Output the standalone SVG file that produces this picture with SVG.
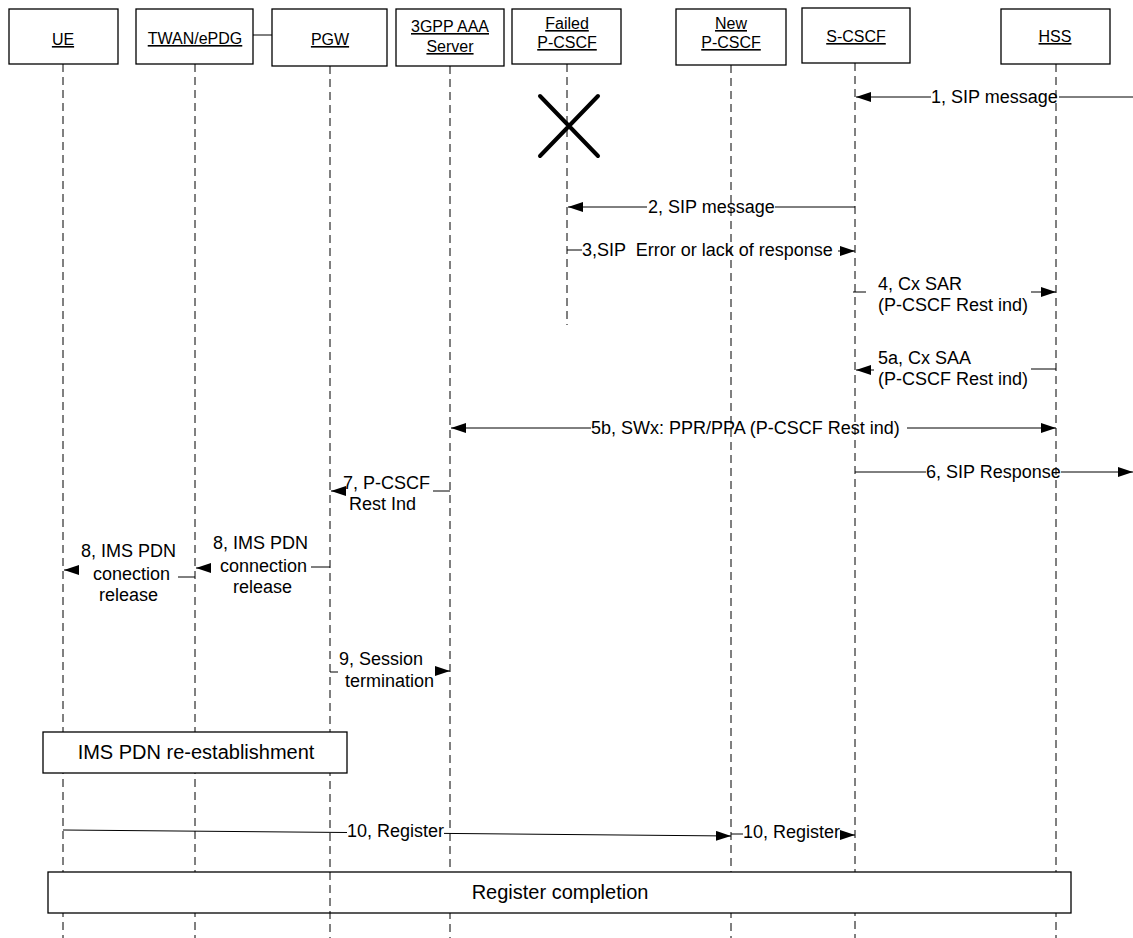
<svg xmlns="http://www.w3.org/2000/svg" width="1133" height="938" viewBox="0 0 1133 938">
<defs>
<marker id="ah" markerUnits="userSpaceOnUse" markerWidth="16" markerHeight="11" refX="15" refY="5" orient="auto-start-reverse">
<path d="M0,0 L15,5 L0,10 z" fill="#000"/>
</marker>
<style>
text{font-family:"Liberation Sans",Arial,sans-serif;fill:#000}
.hd{font-size:16px;text-anchor:middle;text-decoration:underline}
.m{font-size:18px}
.bx{font-size:20px;text-anchor:middle}
.box{fill:#fff;stroke:#000;stroke-width:1.3}
.life{stroke:#000;stroke-width:1;stroke-dasharray:8 5;fill:none}
.ln{stroke:#000;stroke-width:1;fill:none}
.arr{stroke:#000;stroke-width:1;fill:none;marker-end:url(#ah)}
</style>
</defs>
<rect width="1133" height="938" fill="#fff"/>

<g id="UE"><line class="life" x1="63" y1="64" x2="63" y2="938"/><rect class="box" x="9" y="9" width="109" height="55"/><text class="hd" x="63" y="45">UE</text></g>
<g id="TWAN"><line class="life" x1="195" y1="64" x2="195" y2="938"/><rect class="box" x="136" y="9" width="117" height="55"/><text class="hd" x="195" y="44">TWAN/ePDG</text></g>
<g id="AAA"><line class="life" x1="450" y1="66" x2="450" y2="938"/><rect class="box" x="396" y="9" width="108" height="57"/><text class="hd" x="450" y="32">3GPP AAA</text><text class="hd" x="450" y="52">Server</text></g>
<g id="FailedPCSCF"><line class="life" x1="567" y1="64" x2="567" y2="325"/><rect class="box" x="512" y="9" width="109" height="55"/><text class="hd" x="567" y="29">Failed</text><text class="hd" x="567" y="48">P-CSCF</text>
<path d="M540,96 L598,156 M598,96 L540,156" stroke="#000" stroke-width="4" stroke-linecap="round" fill="none"/></g>
<g id="NewPCSCF"><line class="life" x1="731" y1="65" x2="731" y2="938"/><rect class="box" x="676" y="9" width="110" height="56"/><text class="hd" x="731" y="29">New</text><text class="hd" x="731" y="48">P-CSCF</text></g>
<g id="SCSCF"><line class="life" x1="855" y1="63" x2="855" y2="938"/><rect class="box" x="802" y="8" width="108" height="55"/><text class="hd" x="856" y="42">S-CSCF</text></g>
<g id="HSS"><line class="life" x1="1056" y1="64" x2="1056" y2="938"/><rect class="box" x="1001" y="9" width="109" height="55"/><text class="hd" x="1055" y="42">HSS</text></g>

<g id="RegisterCompletion"><rect class="box" x="48" y="872" width="1023" height="41"/><text class="bx" x="560" y="899">Register completion</text></g>

<g id="PGW"><line class="life" x1="330" y1="66" x2="330" y2="938"/><rect class="box" x="272" y="9" width="115" height="57"/><text class="hd" x="330" y="45">PGW</text></g>

<g id="IMSPDN"><rect class="box" x="43" y="732" width="304" height="41"/><text class="bx" x="196" y="759">IMS PDN re-establishment</text></g>

<g id="connectors">
<line class="ln" x1="253" y1="35" x2="272" y2="35"/>
<!-- 1 -->
<path class="ln" d="M1059,97 H1133"/><path class="arr" d="M931,97 H856"/>
<text class="m" x="931" y="103">1, SIP message</text>
<!-- 2 -->
<path class="ln" d="M775,207 H855"/><path class="arr" d="M647,207 H568"/>
<text class="m" x="648" y="213">2, SIP message</text>
<!-- 3 -->
<path class="ln" d="M567,250 H582"/><path class="arr" d="M838,251 H855"/>
<text class="m" x="582" y="256" xml:space="preserve">3,SIP  Error or lack of response</text>
<!-- 4 -->
<path class="ln" d="M853,292 H866"/><path class="arr" d="M1031,292 H1056"/>
<text class="m" x="878" y="290">4, Cx SAR</text><text class="m" x="878" y="311">(P-CSCF Rest ind)</text>
<!-- 5a -->
<path class="ln" d="M1031,369 H1056"/><path class="arr" d="M874,370 H856"/>
<text class="m" x="878" y="364">5a, Cx SAA</text><text class="m" x="878" y="385">(P-CSCF Rest ind)</text>
<!-- 5b -->
<path class="arr" d="M591,428 H451" /><path class="arr" d="M907,428 H1056"/>
<text class="m" x="591" y="434">5b, SWx: PPR/PPA (P-CSCF Rest ind)</text>
<!-- 6 -->
<path class="ln" d="M855,472 H926"/><path class="arr" d="M1061,472 H1133"/>
<text class="m" x="926" y="478">6, SIP Response</text>
<!-- 7 -->
<path class="ln" d="M433,491 H450"/><path class="arr" d="M345,491 H331"/>
<text class="m" x="343" y="489">7, P-CSCF</text><text class="m" x="349" y="510">Rest Ind</text>
<!-- 8 right -->
<path class="ln" d="M311,567 H330"/><path class="arr" d="M211,568 H196"/>
<text class="m" x="213" y="549">8, IMS PDN</text><text class="m" x="220" y="572">connection</text><text class="m" x="233" y="593">release</text>
<!-- 8 left -->
<path class="ln" d="M178,577 H195"/><path class="arr" d="M78,570 H64"/>
<text class="m" x="81" y="557">8, IMS PDN</text><text class="m" x="93" y="580">conection</text><text class="m" x="99" y="601">release</text>
<!-- 9 -->
<path class="ln" d="M330,672 H338"/><path class="arr" d="M435,671 H450"/>
<text class="m" x="339" y="665">9, Session</text><text class="m" x="345" y="687">termination</text>
<!-- 10a -->
<path class="ln" d="M63,830 L347,832.5"/><path class="arr" d="M444,833.4 L731,836"/>
<text class="m" x="347" y="837">10, Register</text>
<!-- 10b -->
<path class="ln" d="M731,834 H743"/><path class="arr" d="M840,835 H855"/>
<text class="m" x="743" y="838">10, Register</text>
</g>
</svg>
